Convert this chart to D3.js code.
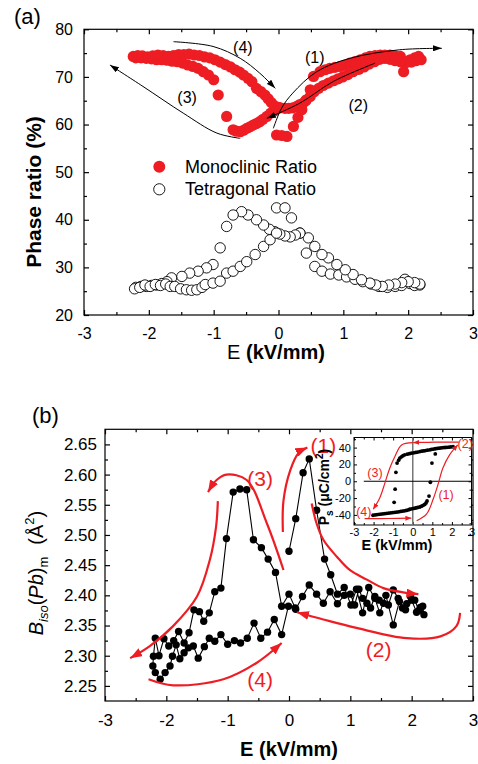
<!DOCTYPE html>
<html>
<head>
<meta charset="utf-8">
<script src="https://cdn.jsdelivr.net/npm/d3@7"></script>
<style>
body { margin: 0; background: #fff; }
svg { display: block; font-family: "Liberation Sans", Arial, sans-serif; }
</style>
</head>
<body>
<svg id="chart" width="478" height="764"></svg>
<script>
const red = "#ee1d23";

// ---------- panel (a): phase ratio ----------
// monoclinic, in measuring order: (1) 0->2.2, (2) 2.2->0, (3) 0->-2.2, (4) -2.2->0
const monoE = [
    -0.03, 0.05, 0.13, 0.23, 0.30, 0.36, 0.42, 0.49, 0.54, 0.64, 0.72, 0.79, 0.87, 0.95, 1.02, 1.10, 1.18, 1.26, 1.34, 1.41, 1.49, 1.57, 1.64, 1.72, 1.80, 1.88, 1.93, 2.03, 2.10, 2.16,
    2.20, 2.12, 2.05, 1.97, 1.88, 1.80, 1.72, 1.64, 1.56, 1.48, 1.40, 1.32, 1.24, 1.15, 1.07, 0.99, 0.92, 0.85, 0.77, 0.69, 0.62, 0.55, 0.49, 0.43, 0.38, 0.33, 0.28, 0.22, 0.16, 0.10, 0.03,
    -0.06, -0.12, -0.18, -0.24, -0.29, -0.34, -0.39, -0.44, -0.49, -0.54, -0.59, -0.65, -0.70, -0.80, -0.93, -1.00, -1.08, -1.16, -1.24, -1.32, -1.40, -1.48, -1.56, -1.64, -1.72, -1.80, -1.88, -1.96, -2.04, -2.12, -2.20,
    -2.24, -2.17, -2.10, -2.02, -1.94, -1.86, -1.78, -1.70, -1.62, -1.54, -1.46, -1.38, -1.30, -1.22, -1.14, -1.06, -0.98, -0.90, -0.82, -0.74, -0.67, -0.60, -0.54, -0.47, -0.41, -0.34, -0.27, -0.21, -0.16, -0.11, -0.06, 0.00
];
const monoP = [
    57.8, 57.7, 57.5, 59.6, 61.5, 63.1, 65.0, 67.3, 70.1, 71.1, 71.5, 71.8, 72.0, 72.2, 72.5, 72.9, 73.2, 73.6, 74.0, 74.3, 74.5, 74.6, 74.6, 74.6, 74.4, 74.3, 71.1, 73.6, 74.0, 74.3,
    73.6, 73.4, 73.1, 73.0, 73.2, 73.4, 73.7, 73.9, 73.7, 73.2, 72.7, 72.1, 71.6, 71.1, 70.5, 70.0, 69.6, 69.2, 68.7, 68.2, 67.6, 66.9, 65.9, 65.2, 64.5, 64.2, 63.8, 63.5, 63.4, 63.4, 63.5,
    62.9, 62.4, 61.7, 61.1, 60.6, 60.2, 59.9, 59.5, 59.2, 58.8, 58.5, 58.6, 58.9, 61.7, 66.2, 69.4, 70.4, 71.1, 71.8, 72.2, 72.5, 72.9, 73.2, 73.3, 73.5, 73.6, 73.6, 73.8, 73.9, 74.0, 74.0,
    74.3, 74.5, 74.4, 74.2, 74.4, 74.6, 74.5, 74.3, 74.5, 74.7, 74.7, 74.8, 74.6, 74.5, 74.2, 74.0, 73.6, 73.1, 72.6, 72.1, 71.5, 71.0, 70.4, 69.7, 69.0, 67.6, 66.9, 66.2, 65.4, 64.6, 63.9, 63.6
];
// tetragonal, same order
const tetE = [
    -0.03, 0.10, 0.20, 0.33, 0.43, 0.56, 0.67, 0.80, 0.93, 1.05, 1.18, 1.30, 1.43, 1.55, 1.68, 1.80, 1.90, 1.95, 2.03, 2.10, 2.18,
    2.18, 2.10, 2.00, 1.90, 1.80, 1.70, 1.60, 1.50, 1.41, 1.28, 1.15, 1.03, 0.90, 0.77, 0.67, 0.56, 0.46, 0.33, 0.26, 0.18, 0.10, 0.02,
    -0.06, -0.14, -0.23, -0.34, -0.47, -0.57, -0.70, -0.80, -0.90, -1.01, -1.11, -1.24, -1.37, -1.49, -1.65, -1.72, -1.80, -1.88, -1.96, -2.04, -2.12, -2.20,
    -2.22, -2.14, -2.06, -1.98, -1.90, -1.82, -1.74, -1.67, -1.60, -1.51, -1.42, -1.34, -1.26, -1.18, -1.13, -1.01, -0.90, -0.80, -0.70, -0.59, -0.49, -0.36, -0.23, -0.13, -0.03
];
const tetT = [
    42.5, 42.5, 40.4, 37.2, 33.0, 30.2, 29.2, 28.6, 28.4, 28.0, 27.5, 27.0, 26.5, 26.0, 25.8, 26.0, 26.2, 27.5, 26.6, 26.2, 26.3,
    26.5, 26.8, 27.0, 26.8, 26.5, 26.3, 26.0, 26.3, 26.7, 27.4, 28.5, 29.5, 30.6, 32.0, 32.7, 34.4, 36.2, 37.2, 36.8, 36.4, 36.6, 37.0,
    37.5, 38.0, 38.9, 40.0, 41.0, 41.7, 41.0, 38.6, 34.1, 30.6, 29.9, 29.2, 28.8, 28.1, 27.8, 27.0, 26.6, 26.3, 26.2, 26.0, 26.0, 25.8,
    25.5, 25.8, 26.3, 26.0, 26.4, 26.2, 26.5, 26.0, 26.0, 25.5, 25.3, 25.2, 25.3, 25.8, 26.4, 26.7, 27.1, 28.8, 29.2, 30.2, 31.2, 32.7, 34.4, 35.8, 37.2
];
// black guide arrows, in data units (E, %)
const aArrow1 = [[-0.08, 59.2], [0.05, 63.5], [0.22, 66.6], [0.59, 71.1], [1.10, 73.9], [1.87, 75.7], [2.52, 76.0]];
const aArrow2 = [[1.49, 72.9], [0.84, 69.0], [0.33, 64.5], [-0.18, 61.3]];
const aArrow3 = [[-0.59, 57.1], [-0.95, 58.2], [-1.47, 62.4], [-2.09, 68.0], [-2.60, 72.5]];
const aArrow4 = [[-1.62, 77.4], [-1.01, 76.4], [-0.59, 73.9], [-0.29, 70.8], [-0.05, 67.6]];
const aLabels = ["(1)", "(2)", "(3)", "(4)"];
const aLabelPos = [[0.56, 74.0], [1.23, 64.1], [-1.41, 65.8], [-0.55, 76.3]];
const legendNames = ["Monoclinic Ratio", "Tetragonal Ratio"];

// ---------- panel (b): B_iso(Pb) ----------
const bisoE = [
    0.00, 0.11, 0.23, 0.33, 0.45, 0.58, 0.68, 0.79, 0.90, 1.01, 1.10, 1.20, 1.30, 1.40, 1.48, 1.58, 1.70, 1.80, 1.90, 2.00, 2.08, 2.14, 2.20,
    2.18, 2.12, 2.05, 1.98, 1.92, 1.85, 1.78, 1.70, 1.62, 1.54, 1.47, 1.40, 1.33, 1.27, 1.20, 1.14, 1.07, 1.00, 0.90, 0.79, 0.67, 0.56, 0.45, 0.33, 0.22, 0.11, 0.00,
    -0.12, -0.22, -0.34, -0.45, -0.58, -0.69, -0.80, -0.91, -1.02, -1.11, -1.21, -1.30, -1.39, -1.46, -1.55, -1.63, -1.71, -1.80, -1.88, -1.96, -2.04, -2.12, -2.18,
    -2.21, -2.22, -2.18, -2.10, -2.02, -1.94, -1.90, -1.84, -1.78, -1.71, -1.64, -1.56, -1.48, -1.38, -1.30, -1.21, -1.11, -1.00, -0.89, -0.79, -0.68, -0.57, -0.46, -0.35, -0.24, -0.12, -0.01, 0.10
];
const bisoB = [
    2.473, 2.527, 2.603, 2.626, 2.541, 2.460, 2.434, 2.402, 2.413, 2.384, 2.410, 2.371, 2.413, 2.395, 2.371, 2.400, 2.351, 2.390, 2.376, 2.392, 2.372, 2.380, 2.368,
    2.382, 2.375, 2.392, 2.398, 2.386, 2.379, 2.395, 2.409, 2.384, 2.387, 2.392, 2.398, 2.379, 2.387, 2.395, 2.410, 2.384, 2.402, 2.400, 2.386, 2.406, 2.387, 2.402, 2.417, 2.398, 2.377, 2.402,
    2.382, 2.438, 2.460, 2.479, 2.492, 2.575, 2.576, 2.571, 2.494, 2.412, 2.406, 2.371, 2.357, 2.373, 2.376, 2.338, 2.321, 2.340, 2.325, 2.316, 2.328, 2.300, 2.329,
    2.299, 2.283, 2.272, 2.261, 2.272, 2.283, 2.299, 2.318, 2.295, 2.305, 2.313, 2.316, 2.296, 2.315, 2.329, 2.324, 2.335, 2.319, 2.325, 2.321, 2.329, 2.354, 2.329, 2.339, 2.360, 2.335, 2.382, 2.379
];
const bArrow1a = [[-0.10, 2.505], [-0.09, 2.557], [0.02, 2.607], [0.15, 2.635], [0.30, 2.645]];
const bArrow1b = [[0.37, 2.552], [0.45, 2.519], [0.56, 2.492], [0.78, 2.464], [0.99, 2.442], [1.27, 2.426], [1.54, 2.412], [1.86, 2.405], [2.11, 2.402]];
const bArrow2 = [[2.79, 2.371], [2.73, 2.349], [2.47, 2.332], [1.92, 2.329], [1.10, 2.346], [0.56, 2.360], [0.13, 2.372]];
const bArrow3 = [[-0.09, 2.442], [-0.36, 2.519], [-0.69, 2.591], [-1.02, 2.600], [-1.18, 2.591], [-1.32, 2.571]];
const bArrowL = [[-1.16, 2.556], [-1.19, 2.513], [-1.29, 2.459], [-1.50, 2.398], [-1.89, 2.349], [-2.27, 2.316], [-2.59, 2.296]];
const bArrow4 = [[-2.29, 2.261], [-1.89, 2.251], [-1.07, 2.261], [-0.53, 2.288], [-0.12, 2.321]];
const bLabels = ["(1)", "(2)", "(3)", "(4)"];
const bLabelPos = [[0.56, 2.648], [1.46, 2.310], [-0.47, 2.594], [-0.47, 2.260]];

// ---------- inset: P-E loop ----------
const loopE = [
    2.06, 1.95, 1.85, 1.75, 1.65, 1.55, 1.45, 1.35, 1.25, 1.15, 1.05, 0.95, 0.87, 0.75, 0.65, 0.55, 0.45, 0.36, 0.25, 0.15, 0.05, -0.07, -0.17, -0.28, -0.41, -0.50, -0.58, -0.66, -0.72, -0.80, -0.86, -0.90, -0.95,
    -2.03, -1.92, -1.82, -1.72, -1.62, -1.52, -1.42, -1.32, -1.22, -1.12, -1.02, -0.92, -0.82, -0.72, -0.62, -0.52, -0.42, -0.32, -0.22, -0.15, -0.05, 0.05, 0.15, 0.25, 0.36, 0.45, 0.53, 0.61, 0.68, 0.73, 0.83, 0.90, 0.98, 1.15
];
const loopP = [
    41.0, 40.8, 40.5, 40.3, 40.1, 40.0, 39.6, 39.3, 39.0, 38.6, 38.3, 37.8, 37.3, 36.9, 36.5, 36.1, 35.7, 35.3, 34.7, 34.3, 33.8, 33.4, 32.8, 32.2, 31.4, 30.3, 29.0, 27.5, 25.0, 21.6, 10.6, -9.4, -25.0,
    -40.4, -40.0, -39.6, -39.3, -39.0, -38.7, -38.4, -38.1, -37.8, -37.5, -37.2, -36.9, -36.6, -36.3, -35.9, -35.5, -35.1, -34.7, -34.0, -33.3, -32.8, -32.3, -31.8, -31.2, -30.6, -29.6, -28.6, -27.5, -25.8, -23.5, -17.6, -1.2, 21.6, 32.5
];
const iTop = [[2.35, 46.5], [1.5, 46.5], [0.8, 46.3], [0.02, 46.0]];
const iLeft = [[0.0, 46.0], [-0.57, 43.2], [-0.91, 29.4], [-1.17, 15.8], [-1.42, -1.9], [-1.68, -19.5], [-2.02, -33.3]];
const iBottom = [[-2.46, -44.5], [-1.2, -44.3], [-0.07, -43.8]];
const iRight = [[0.2, -47.0], [0.7, -39.2], [1.04, -21.5], [1.29, -3.9], [1.54, 15.7], [1.88, 31.4], [2.3, 43.2]];
const iLabels = ["(1)", "(2)", "(3)", "(4)"];
const iLabelPos = [[1.7, -16], [2.68, 45], [-1.93, 10], [-2.5, -36.5]];

const svg = d3.select("#chart");

// arrow heads
const defs = svg.append("defs");
function head(id, color, w, h) {
    defs.append("marker")
        .attr("id", id)
        .attr("viewBox", `0 0 ${w} ${h}`)
        .attr("refX", w).attr("refY", h / 2)
        .attr("markerWidth", w).attr("markerHeight", h)
        .attr("markerUnits", "userSpaceOnUse")
        .attr("orient", "auto")
        .append("path")
        .attr("d", `M0,0L${w},${h / 2}L0,${h}Z`)
        .attr("fill", color);
}
head("headA", "#000", 9, 6);
head("headB", red, 12, 9);
head("headI", red, 6, 5);

const curve = d3.line().curve(d3.curveCatmullRom.alpha(0.5));

function arrow(pts, x, y, color, width, marker) {
    svg.append("path")
        .attr("d", curve(pts.map(p => [x(p[0]), y(p[1])])))
        .attr("fill", "none")
        .attr("stroke", color)
        .attr("stroke-width", width)
        .attr("marker-end", `url(#${marker})`);
}

// frame with inward ticks on all four sides
function axes(x, y, o) {
    const [xa, xb] = x.range(), [ya, yb] = y.range();
    const mk = (axis, tx, ty, vals, size, fmt, pad) => {
        const g = svg.append("g")
            .attr("transform", `translate(${tx},${ty})`)
            .call(axis.tickValues(vals).tickSize(-size).tickPadding(pad).tickFormat(fmt));
        g.select(".domain").remove();
        g.attr("font-family", null).attr("font-size", o.fontSize);
        g.selectAll("line").attr("stroke-width", o.lw);
        return g;
    };
    const none = () => "";
    mk(d3.axisBottom(x), 0, ya, o.xMajor, o.major, o.xFmt, o.xPad);
    mk(d3.axisBottom(x), 0, ya, o.xMinor, o.minor, none, 0);
    mk(d3.axisTop(x), 0, yb, o.xMajor, o.major, none, 0);
    mk(d3.axisTop(x), 0, yb, o.xMinor, o.minor, none, 0);
    mk(d3.axisLeft(y), xa, 0, o.yMajor, o.major, o.yFmt, o.yPad);
    mk(d3.axisLeft(y), xa, 0, o.yMinor, o.minor, none, 0);
    mk(d3.axisRight(y), xb, 0, o.yMajor, o.major, none, 0);
    mk(d3.axisRight(y), xb, 0, o.yMinor, o.minor, none, 0);
    svg.append("rect")
        .attr("x", xa).attr("y", yb)
        .attr("width", xb - xa).attr("height", ya - yb)
        .attr("fill", "none").attr("stroke", "#000").attr("stroke-width", o.lw);
}

const eTicks = [-3, -2, -1, 0, 1, 2, 3];
const eMinor = [-2.5, -1.5, -0.5, 0.5, 1.5, 2.5];

// ================= panel (a) =================
const xA = d3.scaleLinear().domain([-3, 3]).range([84, 473]);
const yA = d3.scaleLinear().domain([20, 80]).range([315, 29.3]);

axes(xA, yA, {
    xMajor: eTicks, xMinor: eMinor,
    yMajor: [20, 30, 40, 50, 60, 70, 80], yMinor: [25, 35, 45, 55, 65, 75],
    xFmt: d => d, yFmt: d => d, xPad: 13, yPad: 11,
    major: 5, minor: 3, fontSize: 16, lw: 1.2
});

svg.append("g").selectAll("circle")
    .data(tetE.map((e, i) => [e, tetT[i]]))
    .join("circle")
    .attr("cx", d => xA(d[0])).attr("cy", d => yA(d[1]))
    .attr("r", 5.2)
    .attr("fill", "#fff").attr("stroke", "#000").attr("stroke-width", 0.9);

svg.append("g").selectAll("circle")
    .data(monoE.map((e, i) => [e, monoP[i]]))
    .join("circle")
    .attr("cx", d => xA(d[0])).attr("cy", d => yA(d[1]))
    .attr("r", 5.6)
    .attr("fill", red);

[aArrow1, aArrow2, aArrow3, aArrow4].forEach(a => arrow(a, xA, yA, "#000", 1, "headA"));

svg.append("g").selectAll("text")
    .data(aLabels)
    .join("text")
    .attr("x", (d, i) => xA(aLabelPos[i][0]))
    .attr("y", (d, i) => yA(aLabelPos[i][1]))
    .attr("dy", "0.35em")
    .attr("text-anchor", "middle")
    .attr("font-size", 16)
    .text(d => d);

// legend
svg.append("circle").attr("cx", 159.3).attr("cy", 166.7).attr("r", 6).attr("fill", red);
svg.append("circle").attr("cx", 159.3).attr("cy", 189.3).attr("r", 5.6)
    .attr("fill", "#fff").attr("stroke", "#000").attr("stroke-width", 0.9);
legendNames.forEach((n, i) => {
    svg.append("text").attr("x", 185).attr("y", 172.5 + i * 22.7)
        .attr("font-size", 18).text(n);
});

svg.append("text").attr("x", 14).attr("y", 24).attr("font-size", 22).text("(a)");

svg.append("text")
    .attr("transform", "translate(41,192) rotate(-90)")
    .attr("text-anchor", "middle")
    .attr("font-size", 21).attr("font-weight", "bold")
    .text("Phase ratio (%)");

const xlA = svg.append("text").attr("x", 276).attr("y", 359)
    .attr("text-anchor", "middle").attr("font-size", 20);
xlA.append("tspan").text("E ");
xlA.append("tspan").attr("font-weight", "bold").text("(kV/mm)");

// ================= panel (b) =================
const xB = d3.scaleLinear().domain([-3, 3]).range([105, 473]);
const yB = d3.scaleLinear().domain([2.225, 2.675]).range([701, 429.3]);

axes(xB, yB, {
    xMajor: eTicks, xMinor: eMinor,
    yMajor: [2.25, 2.30, 2.35, 2.40, 2.45, 2.50, 2.55, 2.60, 2.65],
    yMinor: [2.275, 2.325, 2.375, 2.425, 2.475, 2.525, 2.575, 2.625],
    xFmt: d => d, yFmt: d3.format(".2f"), xPad: 13, yPad: 8,
    major: 5, minor: 3, fontSize: 17, lw: 1.2
});

const bPts = bisoE.map((e, i) => [xB(e), yB(bisoB[i])]);
svg.append("path")
    .attr("d", d3.line()(bPts))
    .attr("fill", "none").attr("stroke", "#000").attr("stroke-width", 1.1);
svg.append("g").selectAll("circle")
    .data(bPts)
    .join("circle")
    .attr("cx", d => d[0]).attr("cy", d => d[1])
    .attr("r", 3.7).attr("fill", "#000");

[bArrow1a, bArrow1b, bArrow2, bArrow3, bArrowL, bArrow4]
    .forEach(a => arrow(a, xB, yB, red, 2.2, "headB"));

svg.append("g").selectAll("text")
    .data(bLabels)
    .join("text")
    .attr("x", (d, i) => xB(bLabelPos[i][0]))
    .attr("y", (d, i) => yB(bLabelPos[i][1]))
    .attr("dy", "0.35em")
    .attr("text-anchor", "middle")
    .attr("font-size", 21).attr("fill", red)
    .text(d => d);

svg.append("text").attr("x", 32).attr("y", 423).attr("font-size", 22).text("(b)");

const ylB = svg.append("text")
    .attr("transform", "translate(43,573) rotate(-90)")
    .attr("text-anchor", "middle").attr("font-size", 20);
ylB.append("tspan").attr("font-style", "italic").text("B");
ylB.append("tspan").attr("font-style", "italic").attr("font-size", 13).attr("dy", 5).text("iso");
ylB.append("tspan").attr("dy", -5).text("(");
ylB.append("tspan").attr("font-style", "italic").text("Pb");
ylB.append("tspan").text(")");
ylB.append("tspan").attr("font-size", 13).attr("dy", 5).text("m");
ylB.append("tspan").attr("dy", -5).attr("dx", 12).text("(Å");
ylB.append("tspan").attr("font-size", 13).attr("dy", -9).text("2");
ylB.append("tspan").attr("dy", 9).text(")");

const xlB = svg.append("text").attr("x", 289).attr("y", 756)
    .attr("text-anchor", "middle").attr("font-size", 20).attr("font-weight", "bold");
xlB.text("E (kV/mm)");

// ================= inset =================
const xI = d3.scaleLinear().domain([-3, 3]).range([354, 471.5]);
const yI = d3.scaleLinear().domain([-52, 52]).range([525, 437.5]);

svg.append("rect").attr("x", 354).attr("y", 437.5).attr("width", 117.5).attr("height", 87.5).attr("fill", "#fff");

axes(xI, yI, {
    xMajor: eTicks, xMinor: eMinor,
    yMajor: [-40, -20, 0, 20, 40], yMinor: [-50, -30, -10, 10, 30, 50],
    xFmt: d => d, yFmt: d => d, xPad: 3, yPad: 3,
    major: 3, minor: 2, fontSize: 11, lw: 1
});

svg.append("line")
    .attr("x1", xI(0)).attr("x2", xI(0))
    .attr("y1", yI(-52)).attr("y2", yI(52))
    .attr("stroke", "#777").attr("stroke-width", 1.5);
svg.append("line")
    .attr("x1", xI(-2.5)).attr("x2", xI(3))
    .attr("y1", yI(0)).attr("y2", yI(0))
    .attr("stroke", "#000").attr("stroke-width", 1);

svg.append("g").selectAll("circle")
    .data(loopE.map((e, i) => [e, loopP[i]]))
    .join("circle")
    .attr("cx", d => xI(d[0])).attr("cy", d => yI(d[1]))
    .attr("r", 1.9).attr("fill", "#000");

[iTop, iLeft, iBottom, iRight].forEach(a => arrow(a, xI, yI, red, 1.2, "headI"));

svg.append("g").selectAll("text")
    .data(iLabels)
    .join("text")
    .attr("x", (d, i) => xI(iLabelPos[i][0]))
    .attr("y", (d, i) => yI(iLabelPos[i][1]))
    .attr("dy", "0.35em")
    .attr("text-anchor", "middle")
    .attr("font-size", 12.5).attr("fill", red)
    .text(d => d);

const ylI = svg.append("text")
    .attr("transform", "translate(329,487) rotate(-90)")
    .attr("text-anchor", "middle").attr("font-size", 14).attr("font-weight", "bold");
ylI.append("tspan").text("P");
ylI.append("tspan").attr("font-size", 10).attr("dy", 4).text("s");
ylI.append("tspan").attr("dy", -4).text(" (μC/cm");
ylI.append("tspan").attr("font-size", 10).attr("dy", -6).text("2");
ylI.append("tspan").attr("dy", 6).text(")");

svg.append("text").attr("x", 397).attr("y", 550)
    .attr("text-anchor", "middle").attr("font-size", 14.5).attr("font-weight", "bold")
    .text("E (kV/mm)");
</script>
</body>
</html>
